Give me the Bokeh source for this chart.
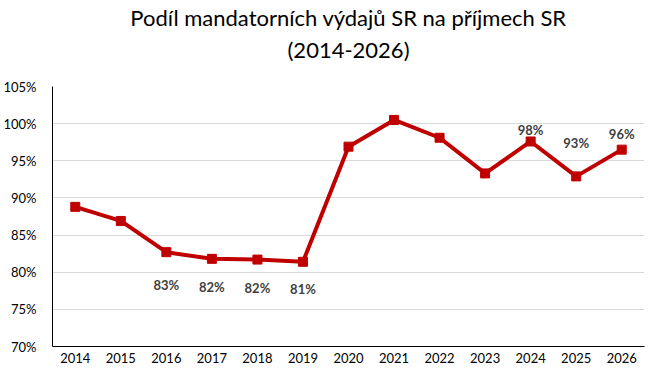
from bokeh.plotting import figure
from bokeh.models import ColumnDataSource, FixedTicker, PrintfTickFormatter, Title, Range1d
from bokeh.embed import file_html
from bokeh.resources import INLINE
from bokeh.core.properties import value

years = ["2014", "2015", "2016", "2017", "2018", "2019", "2020",
         "2021", "2022", "2023", "2024", "2025", "2026"]
share = [88.8, 86.9, 82.7, 81.8, 81.7, 81.4, 96.9,
         100.5, 98.1, 93.3, 97.6, 92.9, 96.5]

label_years = ["2016", "2017", "2018", "2019", "2024", "2025", "2026"]
label_values = [82.7, 81.8, 81.7, 81.4, 97.6, 92.9, 96.5]
label_texts = ["83%", "82%", "82%", "81%", "98%", "93%", "96%"]
label_offsets = [33, 28, 28, 27, -11, -33, -16]

y_ticks = [70, 75, 80, 85, 90, 95, 100, 105]

FONT = "Lato"

p = figure(width=654, height=375, x_range=years, y_range=Range1d(70, 105),
           output_backend="svg", toolbar_location=None,
           min_border_left=45, min_border_right=10, min_border_top=10,
           min_border_bottom=29)
p.x_range.range_padding = 0

spacer = Title(text=" ", text_font=FONT, text_font_size="10px", standoff=9)
t2 = Title(text="(2014-2026)", align="center", text_font=FONT,
           text_font_size="22px", text_font_style="normal", text_color="#000000",
           standoff=2)
t1 = Title(text="Podíl mandatorních výdajů SR na příjmech SR", align="center",
           text_font=FONT, text_font_size="22px", text_font_style="normal",
           text_color="#000000", standoff=3)
p.add_layout(spacer, "above")
p.add_layout(t2, "above")
p.add_layout(t1, "above")

src = ColumnDataSource(data=dict(x=years, y=share))
p.line("x", "y", source=src, line_color="#C00000", line_width=4)
p.scatter("x", "y", source=src, marker="square", size=9,
          fill_color="#C00000", line_color="#C00000")

lsrc = ColumnDataSource(data=dict(x=label_years, y=label_values,
                                  t=label_texts, off=label_offsets))
p.text("x", "y", text="t", y_offset="off", source=lsrc,
       text_align="center", text_baseline="middle",
       text_font=value(FONT), text_font_size="13px", text_font_style="bold",
       text_color="#404040")

p.yaxis.ticker = FixedTicker(ticks=y_ticks)
p.yaxis.formatter = PrintfTickFormatter(format="%d%%")
for ax in (p.xaxis, p.yaxis):
    ax.major_tick_line_color = None
    ax.minor_tick_line_color = None
    ax.axis_line_color = "#000000"
    ax.axis_line_width = 1
    ax.major_label_text_font = FONT
    ax.major_label_text_font_size = "13px"
    ax.major_label_text_color = "#000000"
p.xaxis.major_label_standoff = 0
p.yaxis.major_label_standoff = 10

p.xgrid.grid_line_color = None
p.ygrid.grid_line_color = "#D9D9D9"
p.ygrid.grid_line_width = 1
p.ygrid.ticker = FixedTicker(ticks=y_ticks)
p.outline_line_color = None
p.background_fill_color = "#FFFFFF"
p.border_fill_color = "#FFFFFF"

open("out.html", "w").write(file_html(p, INLINE))
